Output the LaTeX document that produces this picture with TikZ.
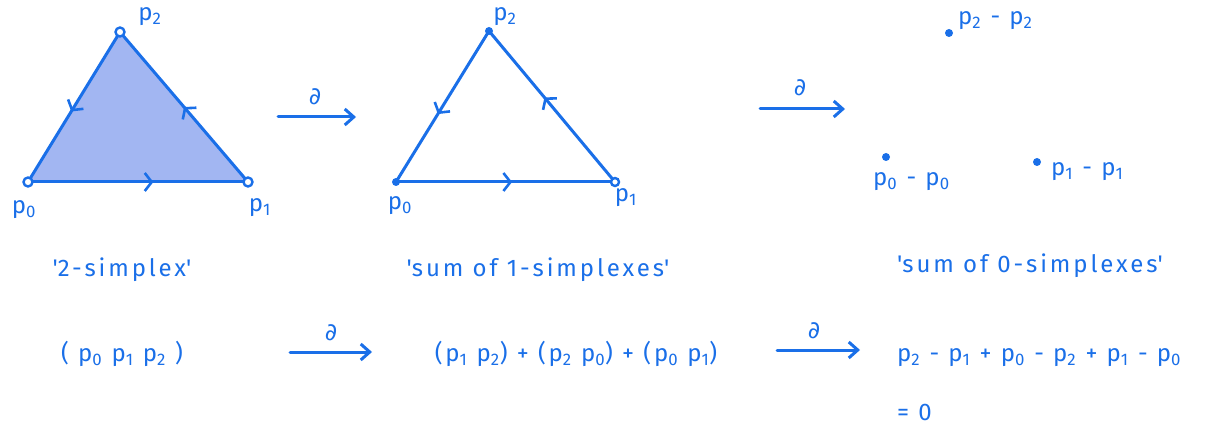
\documentclass[tikz,border=0pt]{standalone}
\usepackage{fontspec}
\setmainfont{Fira Sans}[LetterSpace=12]
\newfontfamily\symfont{DejaVu Sans}
\usetikzlibrary{arrows.meta,decorations.markings}
\definecolor{inkc}{HTML}{1A6FE8}
\definecolor{fillc}{HTML}{A2B6F2}
\newcommand{\pp}[1]{p\textsubscript{#1}}
\newcommand{\bd}{{\symfont\fontsize{24}{26}\selectfont ∂}}
\newcommand{\q}{\textquotesingle}
\tikzset{
  inkline/.style={draw=inkc, line width=3pt, line cap=round, line join=round},
  txt/.style={text=inkc, font=\fontsize{24}{28}\selectfont, inner sep=1pt},
  bdarrow/.style={inkline, -{Straight Barb[length=9pt,width=16pt]}},
  midarrow/.style={postaction={decorate}, decoration={markings, mark=at position #1 with {\arrow[inkc, line width=2.6pt]{Straight Barb[length=7pt,width=18pt]}}}},
  opendot/.style={circle, draw=inkc, line width=2.4pt, fill=white, inner sep=0pt, minimum size=9pt},
  fulldot/.style={circle, fill=inkc, inner sep=0pt, minimum size=8pt},
}
\begin{document}
\begin{tikzpicture}[x=1pt,y=-1pt]
\useasboundingbox (0,0) rectangle (1207,430);
% triangle 1
\coordinate (a0) at (28,182);
\coordinate (a1) at (248,182);
\coordinate (a2) at (120,32);
\fill[fillc] (a0) -- (a1) -- (a2) -- cycle;
\draw[inkline, midarrow=0.57] (a0) -- (a1);
\draw[inkline, midarrow=0.5] (a1) -- (a2);
\draw[inkline, midarrow=0.53] (a2) -- (a0);
\node[opendot] (v0) at (a0) {};
\node[opendot] (v1) at (a1) {};
\node[opendot] (v2) at (a2) {};
\node[txt] (l2) at (150,17) {\pp{2}};
\node[txt] (l0) at (24,210) {\pp{0}};
\node[txt] (l1) at (260,208) {\pp{1}};
% arrow 1
\coordinate (s1) at (278,117);
\coordinate (e1) at (356,117);
\draw[bdarrow] (s1) -- (e1);
\node[txt] (d1) at (315,97) {\bd};
% triangle 2
\coordinate (b0) at (396,182);
\coordinate (b1) at (615,182);
\coordinate (b2) at (489,31);
\draw[inkline, midarrow=0.53] (b0) -- (b1);
\draw[inkline, midarrow=0.56] (b1) -- (b2);
\draw[inkline, midarrow=0.55] (b2) -- (b0);
\node[fulldot] (w0) at (b0) {};
\node[opendot, minimum size=8pt] (w1) at (b1) {};
\node[fulldot] (w2) at (b2) {};
\node[txt] (m2) at (505,17) {\pp{2}};
\node[txt] (m0) at (400,206) {\pp{0}};
\node[txt] (m1) at (626,198) {\pp{1}};
% arrow 2
\coordinate (s2) at (760,109);
\coordinate (e2) at (845,109);
\draw[bdarrow] (s2) -- (e2);
\node[txt] (d2) at (800,88) {\bd};
% dots
\node[fulldot] (q2) at (949,33) {};
\node[txt, anchor=west] (t2) at (957,21) {\pp{2} - \pp{2}};
\node[fulldot] (q0) at (886,157) {};
\node[txt, anchor=west] (t0) at (872,182) {\pp{0} - \pp{0}};
\node[fulldot] (q1) at (1037,162) {};
\node[txt, anchor=west] (t1) at (1050,172) {\pp{1} - \pp{1}};
% captions
\node[txt] (c1) at (122,270) {\q2-simplex\q};
\node[txt] (c2) at (538,270) {\q sum of 1-simplexes\q};
\node[txt] (c3) at (1030,266) {\q sum of 0-simplexes\q};
% bottom row
\node[txt] (f1) at (122,354) {( \pp{0} \pp{1} \pp{2} )};
\coordinate (s3) at (290,352);
\coordinate (e3) at (372,352);
\draw[bdarrow] (s3) -- (e3);
\node[txt] (d3) at (331,333) {\bd};
\node[txt] (f2) at (576,354) {(\pp{1} \pp{2}) + (\pp{2} \pp{0}) + (\pp{0} \pp{1})};
\coordinate (s4) at (777,350);
\coordinate (e4) at (860,350);
\draw[bdarrow] (s4) -- (e4);
\node[txt] (d4) at (814,331) {\bd};
\node[txt, anchor=west] (f3) at (896,358) {\pp{2} - \pp{1} + \pp{0} - \pp{2} + \pp{1} - \pp{0}};
\node[txt, anchor=west] (f4) at (896,412) {= 0};
\end{tikzpicture}
\end{document}
